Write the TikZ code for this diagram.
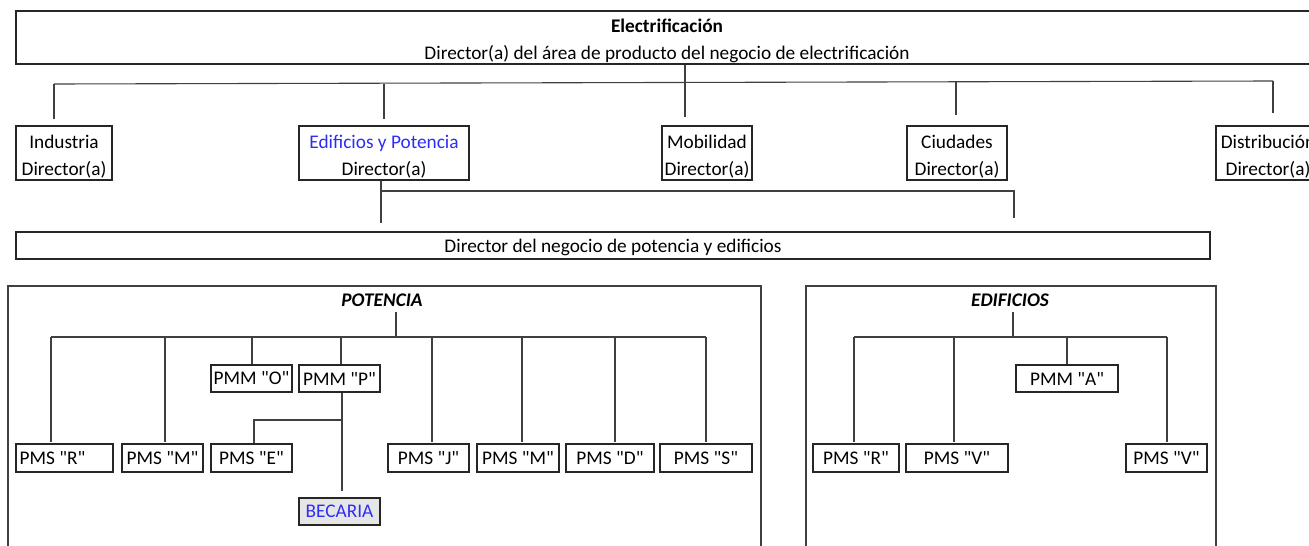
\documentclass[tikz,border=0pt]{standalone}
\usepackage{fontspec}
\setmainfont{Carlito}[Ligatures=TeXOff]
\newcommand{\tup}{\rule{0pt}{20pt}}
\definecolor{lnk}{RGB}{45,45,245}
\definecolor{grayfill}{RGB}{230,230,230}
\begin{document}
\begin{tikzpicture}[x=1pt,y=-1pt,
  box/.style={draw=black!85, line width=1.1pt, inner sep=0pt, font=\fontsize{19.3}{27}\selectfont, align=center},
  conn/.style={draw=black!75, line width=1.1pt},
  frame/.style={draw=black!75, line width=1.1pt},
  ttl/.style={font=\fontsize{19.3}{22}\selectfont\bfseries\itshape, inner sep=0pt}]
\useasboundingbox (0,0) rectangle (1309,546);
\clip (0,0) rectangle (1309,546);

% top level
\node[box, minimum width=1302, minimum height=53] (top) at (667,37.5)
  {\tup\textbf{Electrificación}\\Director(a) del área de producto del negocio de electrificación};

% second row
\node[box, minimum width=96, minimum height=54] (ind) at (64,153) {\tup Industria\\Director(a)};
\node[box, minimum width=170, minimum height=54] (edp) at (384,153) {\tup\textcolor{lnk}{Edificios y Potencia}\\Director(a)};
\node[box, minimum width=90, minimum height=54] (mob) at (707,153) {\tup Mobilidad\\Director(a)};
\node[box, minimum width=100, minimum height=54] (ciu) at (957,153) {\tup Ciudades\\Director(a)};
\node[box, minimum width=104, minimum height=54] (dis) at (1268,153) {\tup Distribución\\Director(a)};

% director box
\node[box, minimum width=1194, minimum height=27] (dir) at (613,245.5) {\rule{0pt}{17pt}Director del negocio de potencia y edificios};

% top bus
\coordinate (bL) at (54,84);
\coordinate (bR) at (1273,81);
\coordinate (eInd) at (54,119);
\coordinate (eEdp) at (384,119);
\coordinate (eMob) at (685,117);
\coordinate (eCiu) at (956,115);
\coordinate (eDis) at (1273,113);
\draw[conn] (bL) -- (bR);
\draw[conn] (bL) -- (eInd);
\draw[conn] (eEdp |- bL) -- (eEdp);
\draw[conn] (top.south -| eMob) -- (eMob);
\draw[conn] (eCiu |- 0,82) -- (eCiu);
\draw[conn] (bR) -- (eDis);

% edificios y potencia -> director
\coordinate (eDir) at (381,223);
\coordinate (hR) at (1014,191);
\coordinate (eR) at (1014,218);
\draw[conn] (edp.south -| eDir) -- (eDir);
\draw[conn] (eDir |- hR) -- (hR) -- (eR);

% frames
\draw[frame] (8,560) -- (8,286) -- (761,286) -- (761,560);
\draw[frame] (806,560) -- (806,286) -- (1216,286) -- (1216,560);
\node[ttl] (pot) at (382,300) {POTENCIA};
\node[ttl] (edi) at (1010,300) {EDIFICIOS};

% potencia boxes
\node[box, minimum width=81, minimum height=27] (pmmO) at (251.5,378.5) {PMM "O"};
\node[box, minimum width=81, minimum height=27] (pmmP) at (339.5,378.5) {PMM "P"};
\node[box, minimum width=97, minimum height=28] (psR) at (64.5,458) {PMS "R"\hspace{24pt}};
\node[box, minimum width=81, minimum height=28] (psM) at (162.5,458) {PMS "M"};
\node[box, minimum width=81, minimum height=28] (psE) at (251.5,458) {PMS "E"};
\node[box, minimum width=81, minimum height=28] (psJ) at (428.5,458) {PMS "J"};
\node[box, minimum width=82, minimum height=28] (psM2) at (518,458) {PMS "M"};
\node[box, minimum width=88, minimum height=28] (psD) at (610,458) {PMS "D"};
\node[box, minimum width=92, minimum height=28] (psS) at (706,458) {PMS "S"};
\node[box, fill=grayfill, minimum width=81, minimum height=27] (bec) at (339.5,511.5) {\textcolor{lnk}{BECARIA}};

% potencia connectors
\coordinate (pTop) at (396,312);
\coordinate (pbL) at (51,337);
\coordinate (pbR) at (706,337);
\draw[conn] (pTop) -- (pTop |- pbL);
\draw[conn] (pbL) -- (pbR);
\draw[conn] (pbL) -- (51,442);
\draw[conn] (165,337) -- (165,442);
\draw[conn] (252,337) -- (pmmO.north -| 252,0);
\draw[conn] (341,337) -- (pmmP.north -| 341,0);
\draw[conn] (432,337) -- (432,442);
\draw[conn] (522,337) -- (522,442);
\draw[conn] (615,337) -- (615,442);
\draw[conn] (pbR) -- (706,442);
\coordinate (pj) at (342,420);
\coordinate (ej) at (254,420);
\coordinate (eBec) at (342,491);
\draw[conn] (pmmP.south -| pj) -- (eBec);
\draw[conn] (pj) -- (ej) -- (ej |- psE.north);

% edificios boxes
\node[box, minimum width=102, minimum height=27] (pmmA) at (1067,378.5) {PMM "A"};
\node[box, minimum width=86, minimum height=28] (esR) at (856,458) {PMS "R"};
\node[box, minimum width=102, minimum height=28] (esV) at (957,458) {PMS "V"};
\node[box, minimum width=81, minimum height=28] (esV2) at (1166.5,458) {PMS "V"};

% edificios connectors
\coordinate (eTop) at (1013,312);
\coordinate (ebL) at (854,337);
\coordinate (ebR) at (1167,337);
\draw[conn] (eTop) -- (eTop |- ebL);
\draw[conn] (ebL) -- (ebR);
\draw[conn] (ebL) -- (854,442);
\draw[conn] (954,337) -- (954,442);
\draw[conn] (1067,337) -- (pmmA.north);
\draw[conn] (ebR) -- (1167,442);
\end{tikzpicture}
\end{document}
